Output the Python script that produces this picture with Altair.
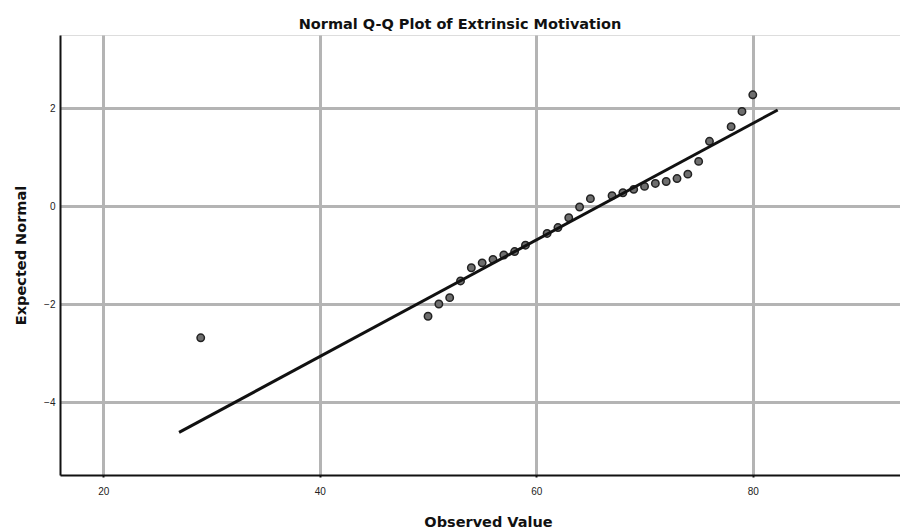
import altair as alt
import pandas as pd

observed = [29, 50, 51, 52, 53, 54, 55, 56, 57, 58, 59, 61, 62, 63, 64, 65,
            67, 68, 69, 70, 71, 72, 73, 74, 75, 76, 78, 79, 80]
expected = [-2.68, -2.24, -1.99, -1.86, -1.52, -1.25, -1.15, -1.08, -0.99, -0.92,
            -0.79, -0.55, -0.43, -0.23, -0.01, 0.16, 0.22, 0.28, 0.35, 0.41,
            0.47, 0.51, 0.57, 0.66, 0.92, 1.33, 1.63, 1.94, 2.28]

# Reference line endpoints
line_x = [27.0, 82.3]
line_y = [-4.61, 1.97]

x_ticks = [20, 40, 60, 80]
y_ticks = [-4, -2, 0, 2]

FONT = "Liberation Sans"
TFONT = "DejaVu Sans"

pts = pd.DataFrame({"obs": observed, "exp": expected})
ln = pd.DataFrame({"obs": line_x, "exp": line_y})

x_scale = alt.Scale(domain=[16.0, 93.6], nice=False, zero=False)
y_scale = alt.Scale(domain=[-5.48, 3.50], nice=False, zero=False)

x_enc = alt.X("obs:Q", scale=x_scale, title="Observed Value",
              axis=alt.Axis(values=x_ticks, grid=True, gridColor="#b4b4b4", gridWidth=3,
                            domainColor="#111111", domainWidth=2,
                            tickColor="#111111", tickSize=2, tickWidth=2,
                            labelFont=FONT, labelFontSize=10, labelColor="#222222",
                            labelPadding=9,
                            titleFont=TFONT, titleFontSize=14.5, titleFontWeight="bold",
                            titleColor="#111111", titlePadding=19,
                            titleX=428, titleAlign="center"))
y_enc = alt.Y("exp:Q", scale=y_scale, title="Expected Normal",
              axis=alt.Axis(values=y_ticks, grid=True, gridColor="#b4b4b4", gridWidth=3,
                            domainColor="#111111", domainWidth=2,
                            ticks=False,
                            labelFont=FONT, labelFontSize=10, labelColor="#222222",
                            labelPadding=5,
                            titleFont=TFONT, titleFontSize=14.5, titleFontWeight="bold",
                            titleColor="#111111", titlePadding=15))

points = alt.Chart(pts).mark_point(
    shape="circle", filled=True, size=55, fill="#6e6e6e", stroke="#222222",
    strokeWidth=1.5, opacity=1
).encode(x=x_enc, y=y_enc)

line = alt.Chart(ln).mark_line(color="#111111", strokeWidth=3).encode(
    x=alt.X("obs:Q", scale=x_scale), y=alt.Y("exp:Q", scale=y_scale))

chart = alt.layer(points, line).properties(
    width=840, height=440,
    title=alt.TitleParams("Normal Q-Q Plot of Extrinsic Motivation", font=TFONT,
                          fontSize=14.5, fontWeight="bold", color="#111111",
                          anchor="middle", dx=-20, dy=15, offset=7, baseline="alphabetic"),
    autosize=alt.AutoSizeParams(type="none"),
    padding={"left": 60, "top": 35, "right": 0, "bottom": 56},
).configure_view(stroke=None).configure(background="white")

chart.save("out.html", embed_options={"renderer": "svg", "actions": False})
